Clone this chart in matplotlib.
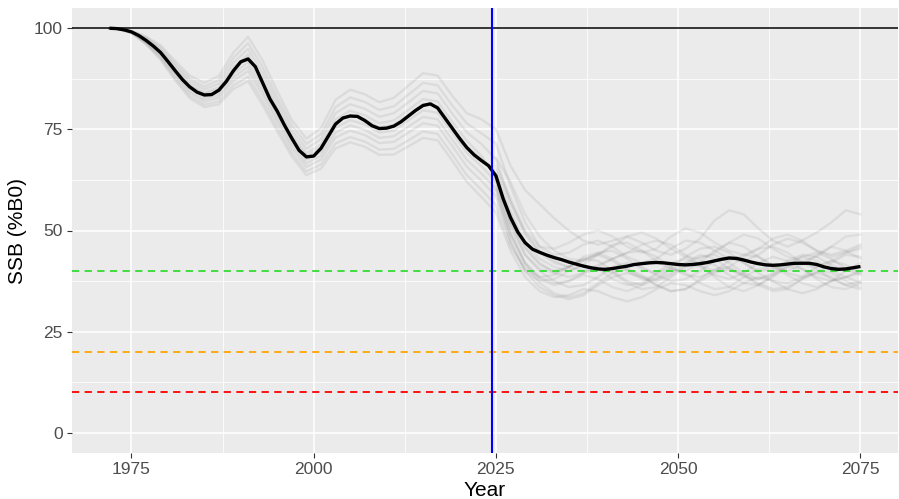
import matplotlib.pyplot as plt

plt.rcParams['font.family'] = ['Liberation Sans', 'DejaVu Sans']

# Median spawning biomass (% of B0), one value per year
years = list(range(1972, 2076))
ssb_median = [
    100.0, 99.9, 99.6, 99.1, 98.2, 97.0, 95.6, 94.0, 91.8, 89.5,
    87.3, 85.5, 84.2, 83.5, 83.6, 84.7, 86.8, 89.5, 91.7, 92.4,
    90.5, 86.5, 82.5, 79.5, 76.0, 72.8, 69.8, 68.2, 68.4, 70.3,
    73.3, 76.3, 77.8, 78.3, 78.2, 77.2, 75.9, 75.2, 75.3, 75.8,
    76.9, 78.3, 79.7, 80.9, 81.3, 80.3, 77.8, 75.3, 72.8, 70.5,
    68.7, 67.3, 66.0, 63.5, 57.8, 53.2, 49.6, 47.0, 45.4, 44.6,
    43.9, 43.3, 42.8, 42.2, 41.7, 41.2, 40.8, 40.5, 40.4, 40.6,
    40.9, 41.2, 41.6, 41.8, 42.0, 42.1, 42.0, 41.8, 41.6, 41.5,
    41.6, 41.8, 42.1, 42.5, 42.9, 43.2, 43.1, 42.7, 42.2, 41.8,
    41.5, 41.4, 41.5, 41.7, 41.9, 41.9, 41.9, 41.6, 41.0, 40.6,
    40.4, 40.5, 40.8, 41.1,
]

# Individual simulation runs over the full period, every second year
sim_years = [1972] + list(range(1973, 2076, 2))
sim_runs = [
    [100.0, 99.9, 99.4, 98.0, 95.8, 91.9, 88.3, 86.5, 88.2, 94.0, 97.9, 92.0, 84.5, 77.3,
     72.7, 75.3, 82.3, 84.8, 83.7, 81.7, 82.8, 85.8, 88.9, 88.3, 83.3, 79.0, 77.5, 75.0,
     66.0, 60.0, 56.5, 53.0, 50.0, 47.5, 46.5, 47.5, 48.5, 47.0, 45.0, 44.0, 45.5, 48.0,
     52.5, 55.0, 54.0, 50.5, 47.5, 46.0, 47.5, 49.5, 52.0, 55.0, 54.0],
    [100.0, 99.9, 99.3, 97.7, 95.3, 91.2, 87.5, 85.6, 87.2, 92.7, 96.3, 90.4, 83.0, 76.0,
     71.4, 73.8, 80.5, 82.9, 81.8, 79.8, 80.7, 83.6, 86.5, 85.9, 80.9, 76.5, 74.0, 71.5,
     61.0, 52.0, 46.0, 44.0, 44.5, 46.5, 47.5, 46.0, 43.5, 42.0, 43.0, 45.5, 47.5, 47.0,
     45.0, 43.0, 42.5, 44.0, 46.5, 48.0, 47.0, 45.0, 44.0, 45.0, 46.5],
    [100.0, 99.9, 99.2, 97.5, 94.8, 90.6, 86.8, 84.9, 86.3, 91.5, 94.9, 89.0, 81.8, 74.8,
     70.2, 72.6, 79.0, 81.2, 80.1, 78.1, 79.0, 81.7, 84.5, 83.9, 78.9, 74.3, 71.4, 67.6,
     57.0, 49.0, 44.5, 42.0, 41.0, 42.5, 44.5, 45.0, 43.0, 40.5, 39.5, 41.0, 43.5, 45.5,
     46.0, 44.5, 42.0, 40.0, 40.5, 42.5, 44.0, 43.5, 41.5, 40.0, 41.0],
    [100.0, 99.9, 99.2, 97.2, 94.4, 90.0, 86.1, 84.1, 85.4, 90.4, 93.5, 87.6, 80.5, 73.7,
     69.1, 71.3, 77.5, 79.6, 78.5, 76.5, 77.2, 79.8, 82.5, 81.9, 76.9, 72.2, 68.5, 63.0,
     54.0, 46.0, 42.0, 39.5, 38.5, 39.5, 41.5, 43.0, 44.5, 45.0, 43.5, 41.0, 39.0, 38.5,
     40.0, 42.5, 44.0, 43.5, 41.5, 39.5, 38.5, 39.5, 42.0, 44.0, 43.5],
    [100.0, 99.9, 99.1, 97.1, 94.1, 89.6, 85.6, 83.7, 84.9, 89.7, 92.7, 86.8, 79.8, 73.0,
     68.4, 70.5, 76.6, 78.6, 77.5, 75.5, 76.2, 78.7, 81.3, 80.7, 75.7, 70.9, 67.7, 63.9,
     52.0, 45.5, 41.5, 40.0, 41.0, 43.0, 42.5, 40.0, 37.5, 36.5, 38.0, 40.5, 42.0, 41.0,
     39.0, 38.0, 39.5, 42.0, 43.5, 42.5, 40.5, 38.5, 37.5, 38.5, 40.0],
    [100.0, 99.9, 99.1, 96.8, 93.7, 89.1, 85.1, 83.0, 84.2, 88.8, 91.6, 85.7, 78.7, 72.1,
     67.5, 69.5, 75.4, 77.3, 76.2, 74.2, 74.7, 77.2, 79.7, 79.1, 74.1, 69.2, 65.9, 62.1,
     51.0, 44.0, 40.0, 37.5, 36.0, 36.5, 38.5, 41.0, 42.0, 41.0, 39.0, 37.5, 38.0, 40.0,
     42.5, 43.5, 42.0, 39.5, 37.5, 37.0, 38.5, 41.0, 42.5, 41.5, 39.5],
    [100.0, 99.9, 99.0, 96.6, 93.4, 88.7, 84.5, 82.4, 83.5, 87.9, 90.5, 84.6, 77.7, 71.2,
     66.6, 68.5, 74.2, 76.0, 74.9, 72.9, 73.3, 75.7, 78.1, 77.5, 72.5, 67.5, 64.1, 60.3,
     49.0, 42.0, 38.0, 36.5, 37.5, 39.5, 40.5, 39.5, 37.0, 35.5, 36.0, 38.5, 41.0, 42.5,
     41.5, 39.0, 37.0, 36.5, 38.5, 41.0, 42.0, 40.5, 38.0, 36.5, 37.5],
    [100.0, 99.9, 98.9, 96.4, 93.0, 88.2, 84.0, 81.8, 82.8, 87.0, 89.4, 83.5, 76.7, 70.3,
     65.7, 67.5, 73.0, 74.7, 73.6, 71.6, 71.9, 74.2, 76.5, 75.9, 70.9, 65.8, 62.3, 58.5,
     47.5, 40.0, 36.0, 34.0, 33.0, 34.0, 36.5, 38.5, 39.5, 38.5, 36.5, 35.0, 35.5, 37.5,
     39.5, 40.5, 39.0, 37.0, 35.5, 36.0, 38.0, 39.5, 38.5, 36.5, 35.5],
    [100.0, 99.9, 98.9, 96.2, 92.6, 87.6, 83.3, 81.1, 81.9, 85.9, 88.0, 82.1, 75.5, 69.2,
     64.6, 66.3, 71.5, 73.1, 72.0, 70.0, 70.2, 72.3, 74.5, 73.9, 68.9, 63.7, 60.1, 56.3,
     46.0, 40.5, 38.5, 39.0, 41.0, 43.0, 44.0, 42.5, 40.0, 38.0, 37.5, 39.0, 41.5, 43.5,
     44.0, 42.0, 39.5, 38.0, 39.0, 41.5, 43.5, 44.5, 43.0, 40.5, 39.0],
    [100.0, 99.9, 98.8, 96.0, 92.2, 87.1, 82.7, 80.5, 81.2, 85.0, 86.9, 81.0, 74.5, 68.3,
     63.7, 65.3, 70.3, 71.8, 70.7, 68.7, 68.8, 70.8, 72.9, 72.3, 67.3, 62.0, 58.3, 54.5,
     45.0, 38.5, 35.0, 33.5, 34.0, 35.5, 35.0, 33.5, 32.5, 33.5, 35.5, 37.0, 36.5, 35.0,
     34.0, 35.0, 37.0, 38.5, 37.5, 35.5, 34.5, 35.5, 37.5, 38.5, 37.0],
]

# Further projection runs from the current year onwards
proj_years = list(range(2025, 2076, 2))
proj_runs = [
    [66.0, 58.0, 50.0, 46.0, 45.5, 47.0, 49.0, 50.0, 48.5, 46.0, 44.5, 45.5, 48.5,
     50.5, 49.5, 47.0, 45.0, 44.0, 45.5, 48.0, 49.0, 47.5, 45.0, 43.5, 44.5, 46.0],
    [64.0, 55.0, 47.0, 43.0, 41.0, 40.0, 41.5, 44.0, 46.5, 47.0, 45.0, 42.5, 40.5,
     40.0, 42.0, 45.0, 47.0, 46.0, 43.5, 41.0, 40.0, 41.5, 44.0, 46.0, 45.0, 43.0],
    [62.0, 50.0, 42.0, 38.5, 37.0, 37.5, 39.0, 38.0, 36.0, 35.0, 36.5, 39.0, 40.5,
     39.5, 37.0, 35.5, 36.0, 38.5, 40.5, 41.0, 39.0, 37.0, 36.0, 37.5, 40.0, 42.0],
    [68.0, 62.0, 54.0, 48.5, 45.0, 43.0, 42.5, 44.0, 46.0, 48.5, 49.5, 48.0, 45.5,
     43.5, 43.0, 44.5, 47.0, 49.0, 48.0, 45.5, 43.5, 42.5, 43.5, 46.0, 48.5, 49.0],
    [63.0, 52.0, 44.0, 40.5, 39.5, 41.0, 43.5, 44.5, 43.0, 40.5, 38.5, 38.0, 39.5,
     42.0, 44.0, 43.0, 40.5, 38.5, 38.0, 39.5, 42.0, 43.5, 42.5, 40.0, 38.5, 39.5],
    [61.0, 49.0, 41.5, 37.0, 34.5, 33.5, 34.5, 37.0, 39.5, 40.5, 39.0, 36.5, 35.0,
     35.5, 38.0, 40.5, 41.0, 39.0, 36.5, 35.0, 35.5, 38.0, 40.0, 39.5, 37.5, 36.0],
    [65.0, 57.0, 49.5, 45.0, 42.5, 41.0, 40.0, 41.0, 43.0, 44.5, 46.5, 47.5, 46.5,
     44.0, 41.5, 40.0, 41.0, 43.5, 45.5, 46.0, 44.5, 42.0, 41.0, 42.5, 44.5, 45.5],
    [60.0, 47.0, 40.0, 37.5, 38.0, 40.0, 41.5, 40.5, 38.0, 36.5, 37.0, 39.5, 42.0,
     43.0, 41.5, 38.5, 36.0, 35.0, 36.5, 39.0, 41.0, 40.5, 38.0, 36.0, 35.5, 37.0],
]

# Reference points (% B0) and current year
b0_level = 100
target = 40
soft_limit = 20
hard_limit = 10
current_year = 2024.5

fig = plt.figure(figsize=(8.99, 4.99), dpi=100)
ax = fig.add_axes([72 / 899, 46 / 499, 826 / 899, 445 / 499])
ax.set_facecolor('#EBEBEB')

for run in sim_runs:
    ax.plot(sim_years, run, color='#6E6E6E', alpha=0.12, lw=1.7, zorder=2,
            solid_joinstyle='round')
for run in proj_runs:
    ax.plot(proj_years, run, color='#6E6E6E', alpha=0.11, lw=1.7, zorder=2,
            solid_joinstyle='round')

ax.axhline(b0_level, color='black', lw=1.1, zorder=3)
ax.plot(years, ssb_median, color='black', lw=2.4, zorder=4,
        solid_capstyle='butt', solid_joinstyle='round')
ax.axhline(target, color='#33DD33', lw=1.3, ls=(0, (4, 3)), zorder=3)
ax.axhline(soft_limit, color='#FFA500', lw=1.3, ls=(0, (4, 3)), zorder=3)
ax.axhline(hard_limit, color='#FF0000', lw=1.3, ls=(0, (4, 3)), zorder=3)
ax.axvline(current_year, color='#0000FF', lw=1.5, zorder=5)

ax.set_xlim(1966.85, 2080.15)
ax.set_ylim(-5, 105)
ax.set_xticks([1975, 2000, 2025, 2050, 2075])
ax.set_yticks([0, 25, 50, 75, 100])
ax.set_xticks([1987.5, 2012.5, 2037.5, 2062.5], minor=True)
ax.set_yticks([12.5, 37.5, 62.5, 87.5], minor=True)
ax.grid(which='major', color='white', lw=1.1, zorder=0)
ax.grid(which='minor', color='white', lw=0.55, zorder=0)
ax.set_axisbelow(True)
for s in ax.spines.values():
    s.set_visible(False)

ax.tick_params(which='major', length=3.3, width=0.8, color='#333333',
               labelcolor='#4D4D4D', labelsize=12.5, pad=3.5)
ax.tick_params(which='minor', length=0)

ax.set_xlabel('Year', fontsize=15)
ax.set_ylabel('SSB (%B0)', fontsize=15)
ax.xaxis.set_label_coords(0.5, (453 - 490) / 445)
ax.xaxis.label.set_va('center')
ax.yaxis.set_label_coords((18 - 72) / 826, 0.5)
ax.yaxis.label.set_va('center')

fig.savefig('out.png', dpi=100)
